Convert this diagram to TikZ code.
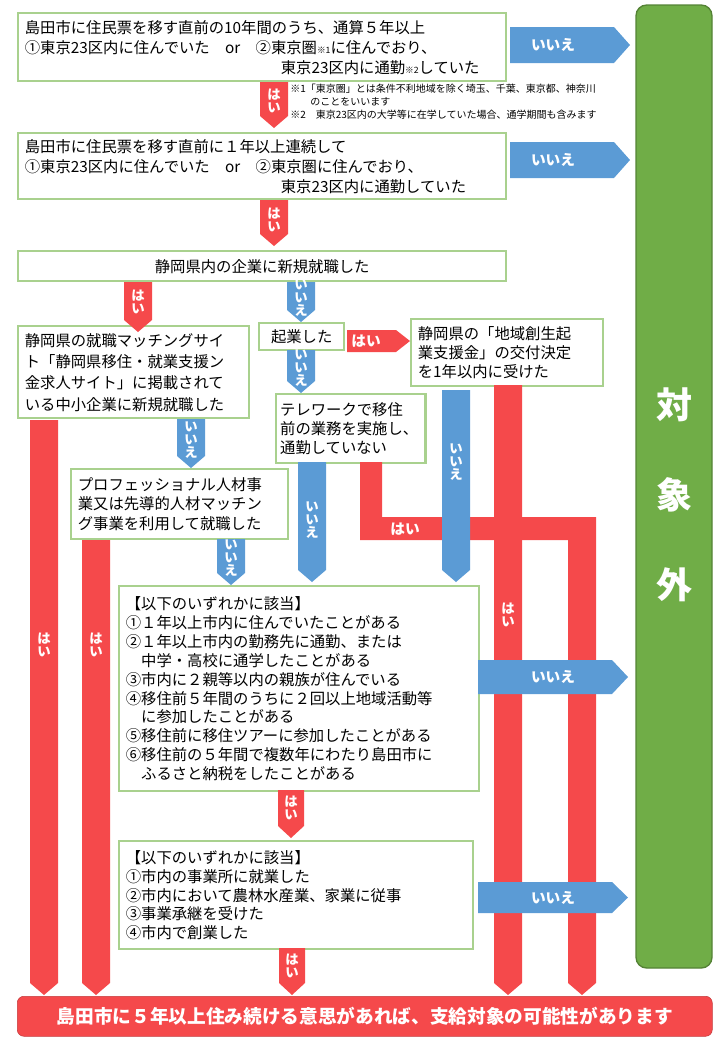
\documentclass[tikz,border=0pt]{standalone}
\usepackage{fontspec}
\setmainfont{Noto Sans CJK JP}
\definecolor{hired}{HTML}{F5494B}
\definecolor{noblue}{HTML}{5B9BD5}
\definecolor{outgreen}{HTML}{70AD47}
\definecolor{edgegreen}{HTML}{A9D18E}
% down arrow: colour, x, top, bottom, half width
\newcommand\darrow[5]{\fill[#1] (#2-#5,#3) -- (#2+#5,#3) -- (#2+#5,#4-12) -- (#2,#4) -- (#2-#5,#4-12) -- cycle;}
% right arrow: colour, left, right, top, bottom
\newcommand\rarrow[5]{\fill[#1] (#2,#4) -- (#3-16,#4) -- (#3,{(#4+#5)/2}) -- (#3-16,#5) -- (#2,#5) -- cycle;}
\tikzset{
  box/.style={draw=edgegreen, line width=1.8pt, fill=white, anchor=north west,
    inner xsep=5pt, inner ysep=2pt, align=left, font=\fontsize{11.5}{14.5}\selectfont},
  vlab/.style={text=white, align=center, inner sep=0pt, font=\fontsize{10}{10}\selectfont\bfseries},
  hlab/.style={text=white, inner sep=0pt, font=\fontsize{11}{12}\selectfont\bfseries},
  note/.style={anchor=north west, align=left, inner sep=0pt, font=\fontsize{7.5}{9.6}\selectfont},
}
\newcommand\sml[1]{{\fontsize{6.5}{7}\selectfont #1}}
\begin{document}
\begin{tikzpicture}[x=0.75pt,y=-0.75pt]
\useasboundingbox (0,0) rectangle (720,1040);
% result column
\fill[outgreen, draw=outgreen!75!black, line width=1pt, rounded corners=8] (636,5) rectangle (712,968);
\foreach \ch/\yy in {対/405, 象/495, 外/585}
  \node[text=white, font=\fontsize{27}{27}\selectfont\bfseries] (out\yy) at (674,\yy) {\ch};
% questions
\node[box, text width=356pt, minimum height=68*0.75pt, font=\fontsize{11.5}{15}\selectfont] (q1) at (17,12)
  {島田市に住民票を移す直前の10年間のうち、通算５年以上\\
   ①東京23区内に住んでいた\quad or\quad ②東京圏\sml{※1}に住んでおり、\\
   \hspace*{192pt}東京23区内に通勤\sml{※2}していた};
\node[note] (notes) at (290,84)
  {※1「東京圏」とは条件不利地域を除く埼玉、千葉、東京都、神奈川\\
   \hspace*{15pt}のことをいいます\\
   ※2\quad 東京23区内の大学等に在学していた場合、通学期間も含みます};
\node[box, text width=356pt, minimum height=66*0.75pt, font=\fontsize{11.5}{15}\selectfont] (q2) at (17,132)
  {島田市に住民票を移す直前に１年以上連続して\\
   ①東京23区内に住んでいた\quad or\quad ②東京圏に住んでおり、\\
   \hspace*{192pt}東京23区内に通勤していた};
\node[box, text width=356pt, align=center, minimum height=30*0.75pt] (q3) at (17,250) {静岡県内の企業に新規就職した};
\node[box, text width=163pt, minimum height=92*0.75pt, font=\fontsize{11.5}{16}\selectfont] (site) at (17,325)
  {静岡県の就職マッチングサイ\\ト「静岡県移住・就業支援ン\\金求人サイト」に掲載されて\\いる中小企業に新規就職した};
\node[box, minimum width=85*0.75pt, minimum height=27*0.75pt, align=center] (start) at (258,322) {起業した};
\node[box, text width=134pt, minimum height=67*0.75pt] (fund) at (410,318)
  {静岡県の「地域創生起\\業支援金」の交付決定\\を1年以内に受けた};
\node[box, text width=106pt, inner xsep=3pt, minimum height=69*0.75pt] (tele) at (275,393)
  {テレワークで移住\\前の業務を実施し、\\通勤していない};
\node[box, text width=152.75pt, minimum height=70*0.75pt] (pro) at (70,468)
  {プロフェッショナル人材事\\業又は先導的人材マッチン\\グ事業を利用して就職した};
\node[box, text width=260pt, minimum height=205*0.75pt, font=\fontsize{11.5}{14.2}\selectfont] (tie) at (118,585)
  {【以下のいずれかに該当】\\
   ①１年以上市内に住んでいたことがある\\
   ②１年以上市内の勤務先に通勤、または\\
   \hspace*{1em}中学・高校に通学したことがある\\
   ③市内に２親等以内の親族が住んでいる\\
   ④移住前５年間のうちに２回以上地域活動等\\
   \hspace*{1em}に参加したことがある\\
   ⑤移住前に移住ツアーに参加したことがある\\
   ⑥移住前の５年間で複数年にわたり島田市に\\
   \hspace*{1em}ふるさと納税をしたことがある};
\node[box, text width=255.5pt, minimum height=108*0.75pt, font=\fontsize{11.5}{14.2}\selectfont] (work) at (118,840)
  {【以下のいずれかに該当】\\①市内の事業所に就業した\\②市内において農林水産業、家業に従事\\③事業承継を受けた\\④市内で創業した};
% yes arrows
\darrow{hired}{274}{82}{128}{14}
\node[vlab] (y1) at (274,101) {は\\い};
\darrow{hired}{274}{200}{246}{14}
\node[vlab] (y2) at (274,220) {は\\い};
\darrow{hired}{138}{282}{332}{14}
\node[vlab] (y3) at (138,302) {は\\い};
\fill[hired] (347,330) -- (396,330) -- (410,341) -- (396,352) -- (347,352) -- cycle;
\node[hlab] (y4) at (366,341) {はい};
\darrow{hired}{44}{420}{995}{14}
\node[vlab] (y5) at (44,645) {は\\い};
\darrow{hired}{96}{540}{995}{14}
\node[vlab] (y6) at (96,645) {は\\い};
\fill[hired] (360,462) -- (382,462) -- (382,517) -- (596,517) -- (596,983) -- (582,995)
  -- (568,983) -- (568,540) -- (360,540) -- cycle;
\node[hlab] (y7) at (405,529) {はい};
\darrow{hired}{508}{385}{995}{14}
\node[vlab] (y8) at (508,615) {は\\い};
\darrow{hired}{291}{790}{838}{13}
\node[vlab] (y9) at (291,808) {は\\い};
\darrow{hired}{292}{948}{995}{13}
\node[vlab] (y10) at (292,966) {は\\い};
% no arrows
\rarrow{noblue}{510}{630}{27}{63}
\node[hlab] (n1) at (553,45) {いいえ};
\rarrow{noblue}{510}{630}{142}{178}
\node[hlab] (n2) at (553,160) {いいえ};
\darrow{noblue}{301}{282}{322}{14}
\node[vlab] (n3) at (301,298) {い\\い\\え};
\darrow{noblue}{301}{350}{393}{14}
\node[vlab] (n4) at (301,368) {い\\い\\え};
\darrow{noblue}{191}{419}{468}{14}
\node[vlab] (n5) at (191,440) {い\\い\\え};
\darrow{noblue}{231}{539}{585}{14}
\node[vlab] (n6) at (231,558) {い\\い\\え};
\darrow{noblue}{312}{462}{582}{14}
\node[vlab] (n7) at (312,520) {い\\い\\え};
\darrow{noblue}{456}{390}{582}{14}
\node[vlab] (n8) at (456,462) {い\\い\\え};
\rarrow{noblue}{478}{628}{660}{694}
\node[hlab] (n9) at (553,677) {いいえ};
\rarrow{noblue}{478}{628}{882}{913}
\node[hlab] (n10) at (553,898) {いいえ};
% result bar
\node[fill=hired, draw=hired!80!black, rounded corners=5, minimum width=695*0.75pt, minimum height=40*0.75pt,
  text=white, font=\fontsize{14}{14}\selectfont\bfseries, anchor=north west] (maybe) at (17,996)
  {島田市に５年以上住み続ける意思があれば、支給対象の可能性があります};
\end{tikzpicture}
\end{document}
